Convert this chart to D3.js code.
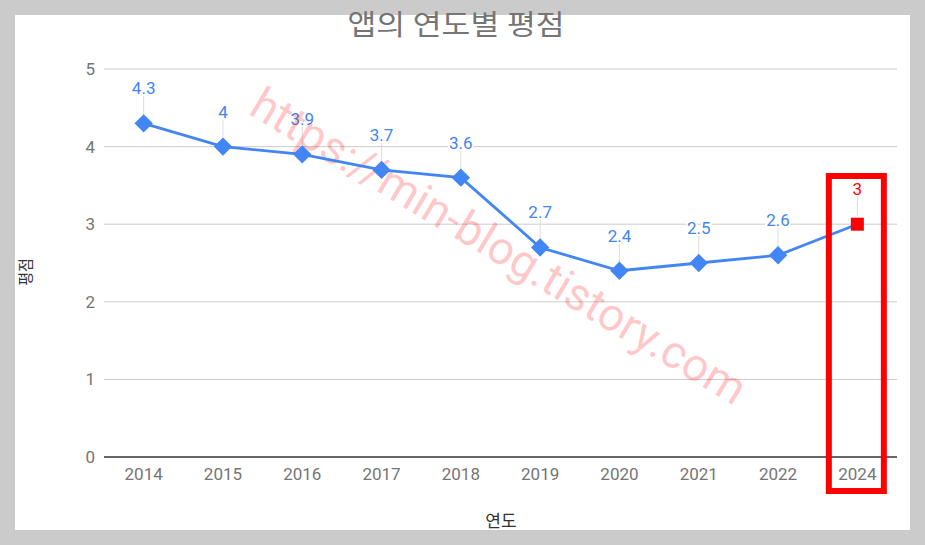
<!DOCTYPE html>
<html>
<head>
<meta charset="utf-8">
<script src="https://cdn.jsdelivr.net/npm/d3@7"></script>
<style>
  body { margin: 0; background: #cbcbcb; }
  svg { display: block; }
</style>
</head>
<body>
<script>
var years = ["2014", "2015", "2016", "2017", "2018", "2019", "2020", "2021", "2022", "2024"];
var ratings = [4.3, 4, 3.9, 3.7, 3.6, 2.7, 2.4, 2.5, 2.6, 3];
var yTicks = [0, 1, 2, 3, 4, 5];
var highlightYear = "2024";

var w = 925,
    h = 545,
    plotLeft = 104,
    plotRight = 897,
    plotTop = 69,
    plotBottom = 457;

var svg = d3.select("body").append("svg")
    .attr("width", w)
    .attr("height", h)
    .style("font-family", "Roboto, 'Noto Sans CJK KR', sans-serif");

svg.append("rect")
    .attr("x", 15).attr("y", 15)
    .attr("width", 895).attr("height", 515)
    .attr("fill", "#fff");

var x = d3.scaleBand().domain(years).range([plotLeft, plotRight]);
var y = d3.scaleLinear().domain([0, 5]).range([plotBottom, plotTop]);

// gridlines
svg.append("g").selectAll("line")
    .data(yTicks.filter(function (d) { return d > 0; }))
    .join("line")
    .attr("x1", plotLeft).attr("x2", plotRight)
    .attr("y1", function (d) { return y(d); })
    .attr("y2", function (d) { return y(d); })
    .attr("stroke", "#cccccc")
    .attr("stroke-width", 1);

// y tick labels
svg.append("g").selectAll("text")
    .data(yTicks)
    .join("text")
    .attr("x", 95)
    .attr("y", function (d) { return y(d); })
    .attr("dy", "0.35em")
    .attr("text-anchor", "end")
    .attr("fill", "#757575")
    .style("font-size", "17px")
    .text(function (d) { return d; });

// x tick labels
svg.append("g").selectAll("text")
    .data(years)
    .join("text")
    .attr("x", function (d) { return x(d) + x.bandwidth() / 2; })
    .attr("y", 474)
    .attr("dy", "0.35em")
    .attr("text-anchor", "middle")
    .attr("fill", "#757575")
    .style("font-size", "17px")
    .text(function (d) { return d; });

// baseline
svg.append("line")
    .attr("x1", plotLeft).attr("x2", plotRight)
    .attr("y1", y(0)).attr("y2", y(0))
    .attr("stroke", "#333")
    .attr("stroke-width", 1.5);

var pts = years.map(function (d, i) {
    return { year: d, value: ratings[i], cx: x(d) + x.bandwidth() / 2, cy: y(ratings[i]) };
});

// leader lines
svg.append("g").selectAll("line")
    .data(pts)
    .join("line")
    .attr("x1", function (d) { return d.cx; })
    .attr("x2", function (d) { return d.cx; })
    .attr("y1", function (d) { return d.cy - 28; })
    .attr("y2", function (d) { return d.cy - 8; })
    .attr("stroke", "#dddddd")
    .attr("stroke-width", 1);

// value labels (white halo hides gridline behind)
svg.append("g").selectAll("text")
    .data(pts)
    .join("text")
    .attr("x", function (d) { return d.cx; })
    .attr("y", function (d) { return d.cy - 35; })
    .attr("dy", "0.35em")
    .attr("text-anchor", "middle")
    .attr("fill", function (d) { return d.year === highlightYear ? "#ff0000" : "#4285f4"; })
    .attr("stroke", "#fff")
    .attr("stroke-width", 4)
    .attr("paint-order", "stroke")
    .style("font-size", "17px")
    .text(function (d) { return d.value; });

// watermark
svg.append("text")
    .attr("transform", "translate(499,246) rotate(31)")
    .attr("text-anchor", "middle")
    .attr("dy", "0.35em")
    .attr("fill", "#ff0000")
    .attr("fill-opacity", 0.22)
    .style("font-size", "46px")
    .text("https://min-blog.tistory.com");

// line
svg.append("path")
    .datum(pts)
    .attr("fill", "none")
    .attr("stroke", "#4285f4")
    .attr("stroke-width", 2.8)
    .attr("d", d3.line().x(function (d) { return d.cx; }).y(function (d) { return d.cy; }));

// markers
svg.append("g").selectAll("path")
    .data(pts.filter(function (d) { return d.year !== highlightYear; }))
    .join("path")
    .attr("transform", function (d) { return "translate(" + d.cx + "," + d.cy + ") rotate(45)"; })
    .attr("d", "M-6.5,-6.5H6.5V6.5H-6.5Z")
    .attr("fill", "#4285f4");

svg.append("g").selectAll("rect")
    .data(pts.filter(function (d) { return d.year === highlightYear; }))
    .join("rect")
    .attr("x", function (d) { return d.cx - 6.5; })
    .attr("y", function (d) { return d.cy - 6.5; })
    .attr("width", 13).attr("height", 13)
    .attr("fill", "#ff0000");

// highlight box
var hx = x(highlightYear) + x.bandwidth() / 2;
svg.append("rect")
    .attr("x", hx - 28.5).attr("y", 176)
    .attr("width", 55).attr("height", 315)
    .attr("fill", "none")
    .attr("stroke", "#ff0000")
    .attr("stroke-width", 6);

// titles
svg.append("text")
    .attr("x", 456).attr("y", 25)
    .attr("dy", "0.35em")
    .attr("text-anchor", "middle")
    .attr("fill", "#757575")
    .style("font-size", "28px")
    .attr("textLength", 217)
    .attr("lengthAdjust", "spacingAndGlyphs")
    .text("앱의 연도별 평점");

svg.append("text")
    .attr("x", 501).attr("y", 521)
    .attr("dy", "0.35em")
    .attr("text-anchor", "middle")
    .attr("fill", "#333")
    .style("font-size", "17px")
    .text("연도");

svg.append("text")
    .attr("transform", "translate(26,272) rotate(-90)")
    .attr("dy", "0.35em")
    .attr("text-anchor", "middle")
    .attr("fill", "#333")
    .style("font-size", "15px")
    .text("평점");
</script>
</body>
</html>
